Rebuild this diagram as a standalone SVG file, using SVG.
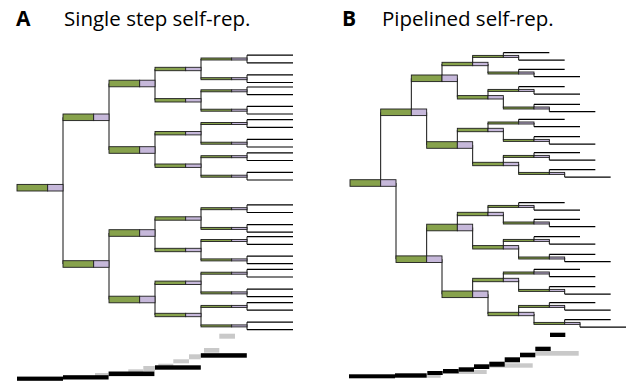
<svg xmlns="http://www.w3.org/2000/svg" width="632" height="387" viewBox="0 0 632 387">
<style>
.g{fill:#87a24c;stroke:#1e1e1e;stroke-width:0.9}
.p{fill:#c6b8da;stroke:#1e1e1e;stroke-width:0.9}
.c{fill:none;stroke:#111;stroke-width:1}
.lf line{stroke:#000;stroke-width:1.2}
.k{fill:#000}
.gr{fill:#c9c9c9}
.lbl{font-family:"Open Sans","Liberation Sans",sans-serif;font-size:20.5px;fill:#000}
.big{font-family:"Open Sans","Liberation Sans",sans-serif;font-size:21px;font-weight:bold;fill:#000}
</style>
<text class="big" x="16" y="26">A</text>
<text class="lbl" x="64" y="26">Single step self-rep.</text>
<text class="big" x="342" y="26">B</text>
<text class="lbl" x="382" y="26">Pipelined self-rep.</text>

<g id="connectors">
<path class="c" d="M63 117.3V264M109 83.5V150M109 233V299.5M155 69V100.3M155 133.2V165.7M155 218.5V250M155 282.8V315M201 59V78.7M201 90.8V110.2M201 123.5V143.2M201 156.7V176.2M201 208.7V228.4M201 240.5V259.9M201 273.2V292.9M201 306.4V325.9M247 55.2V62.8M247 74.9V82.5M247 87V94.6M247 106.4V114M247 119.7V127.3M247 139.4V147M247 152.9V160.5M247 172.4V180M247 204.9V212.5M247 224.6V232.2M247 236.7V244.3M247 256.1V263.7M247 269.4V277M247 289.1V296.7M247 302.6V310.2M247 322.1V329.7"/>
<path class="c" d="M380.67 112.3V183M396 183V259.2M411.33 78.3V112.3M426.67 112.3V145M426.67 227.5V259.2M442 259.2V294.3M442 64V78.3M457.33 78.3V97.3M457.33 130V145M472.67 145V164M457.33 214V227.5M472.67 227.5V247.3M472.67 280V294.3M488 294.3V314M472.67 56.4V64M488 64V73M488 90.4V97.3M503.33 97.3V108M488 123V130M503.33 130V140.4M503.33 156.4V164M518.67 164V173.4M488 206.4V214M503.33 214V223M503.33 240.4V247.3M518.67 247.3V258M503.33 273V280M518.67 280V290.4M518.67 306.4V314M534 314V323.4M503.33 52.7V56.4M518.67 56.4V60.1M518.67 69.3V73M534 73V76.7M518.67 86.7V90.4M534 90.4V94.1M534 104.3V108M549.33 108V111.7M518.67 119.3V123M534 123V126.7M534 136.7V140.4M549.33 140.4V144.1M534 152.7V156.4M549.33 156.4V160.1M549.33 169.7V173.4M564.67 173.4V177.1M518.67 202.7V206.4M534 206.4V210.1M534 219.3V223M549.33 223V226.7M534 236.7V240.4M549.33 240.4V244.1M549.33 254.3V258M564.67 258V261.7M534 269.3V273M549.33 273V276.7M549.33 286.7V290.4M564.67 290.4V294.1M549.33 302.7V306.4M564.67 306.4V310.1M564.67 319.7V323.4M580 323.4V327.1"/>
</g>

<!-- Panel A nodes -->
<g id="A-r"><rect class="g" x="17" y="184.4" width="30.67" height="6.6"/><rect class="p" x="47.67" y="184.4" width="15.33" height="6.6"/></g>
<g id="A-a"><rect class="g" x="63" y="114" width="30.67" height="6.6"/><rect class="p" x="93.67" y="114" width="15.33" height="6.6"/></g>
<g id="A-b"><rect class="g" x="63" y="260.7" width="30.67" height="6.6"/><rect class="p" x="93.67" y="260.7" width="15.33" height="6.6"/></g>
<g id="A-aa"><rect class="g" x="109" y="80.2" width="30.67" height="6.6"/><rect class="p" x="139.67" y="80.2" width="15.33" height="6.6"/></g>
<g id="A-ab"><rect class="g" x="109" y="146.7" width="30.67" height="6.6"/><rect class="p" x="139.67" y="146.7" width="15.33" height="6.6"/></g>
<g id="A-ba"><rect class="g" x="109" y="229.7" width="30.67" height="6.6"/><rect class="p" x="139.67" y="229.7" width="15.33" height="6.6"/></g>
<g id="A-bb"><rect class="g" x="109" y="296.2" width="30.67" height="6.6"/><rect class="p" x="139.67" y="296.2" width="15.33" height="6.6"/></g>
<g id="A-aaa"><rect class="g" x="155" y="67.3" width="30.67" height="3.4"/><rect class="p" x="185.67" y="67.3" width="15.33" height="3.4"/></g>
<g id="A-aab"><rect class="g" x="155" y="98.6" width="30.67" height="3.4"/><rect class="p" x="185.67" y="98.6" width="15.33" height="3.4"/></g>
<g id="A-aba"><rect class="g" x="155" y="131.5" width="30.67" height="3.4"/><rect class="p" x="185.67" y="131.5" width="15.33" height="3.4"/></g>
<g id="A-abb"><rect class="g" x="155" y="164" width="30.67" height="3.4"/><rect class="p" x="185.67" y="164" width="15.33" height="3.4"/></g>
<g id="A-baa"><rect class="g" x="155" y="216.8" width="30.67" height="3.4"/><rect class="p" x="185.67" y="216.8" width="15.33" height="3.4"/></g>
<g id="A-bab"><rect class="g" x="155" y="248.3" width="30.67" height="3.4"/><rect class="p" x="185.67" y="248.3" width="15.33" height="3.4"/></g>
<g id="A-bba"><rect class="g" x="155" y="281.1" width="30.67" height="3.4"/><rect class="p" x="185.67" y="281.1" width="15.33" height="3.4"/></g>
<g id="A-bbb"><rect class="g" x="155" y="313.3" width="30.67" height="3.4"/><rect class="p" x="185.67" y="313.3" width="15.33" height="3.4"/></g>
<g id="A-aaaa"><rect class="g" x="201" y="58" width="30.67" height="2"/><rect class="p" x="231.67" y="58" width="15.33" height="2"/></g>
<g id="A-aaab"><rect class="g" x="201" y="77.7" width="30.67" height="2"/><rect class="p" x="231.67" y="77.7" width="15.33" height="2"/></g>
<g id="A-aaba"><rect class="g" x="201" y="89.8" width="30.67" height="2"/><rect class="p" x="231.67" y="89.8" width="15.33" height="2"/></g>
<g id="A-aabb"><rect class="g" x="201" y="109.2" width="30.67" height="2"/><rect class="p" x="231.67" y="109.2" width="15.33" height="2"/></g>
<g id="A-abaa"><rect class="g" x="201" y="122.5" width="30.67" height="2"/><rect class="p" x="231.67" y="122.5" width="15.33" height="2"/></g>
<g id="A-abab"><rect class="g" x="201" y="142.2" width="30.67" height="2"/><rect class="p" x="231.67" y="142.2" width="15.33" height="2"/></g>
<g id="A-abba"><rect class="g" x="201" y="155.7" width="30.67" height="2"/><rect class="p" x="231.67" y="155.7" width="15.33" height="2"/></g>
<g id="A-abbb"><rect class="g" x="201" y="175.2" width="30.67" height="2"/><rect class="p" x="231.67" y="175.2" width="15.33" height="2"/></g>
<g id="A-baaa"><rect class="g" x="201" y="207.7" width="30.67" height="2"/><rect class="p" x="231.67" y="207.7" width="15.33" height="2"/></g>
<g id="A-baab"><rect class="g" x="201" y="227.4" width="30.67" height="2"/><rect class="p" x="231.67" y="227.4" width="15.33" height="2"/></g>
<g id="A-baba"><rect class="g" x="201" y="239.5" width="30.67" height="2"/><rect class="p" x="231.67" y="239.5" width="15.33" height="2"/></g>
<g id="A-babb"><rect class="g" x="201" y="258.9" width="30.67" height="2"/><rect class="p" x="231.67" y="258.9" width="15.33" height="2"/></g>
<g id="A-bbaa"><rect class="g" x="201" y="272.2" width="30.67" height="2"/><rect class="p" x="231.67" y="272.2" width="15.33" height="2"/></g>
<g id="A-bbab"><rect class="g" x="201" y="291.9" width="30.67" height="2"/><rect class="p" x="231.67" y="291.9" width="15.33" height="2"/></g>
<g id="A-bbba"><rect class="g" x="201" y="305.4" width="30.67" height="2"/><rect class="p" x="231.67" y="305.4" width="15.33" height="2"/></g>
<g id="A-bbbb"><rect class="g" x="201" y="324.9" width="30.67" height="2"/><rect class="p" x="231.67" y="324.9" width="15.33" height="2"/></g>
<g class="lf">
<g id="A-L01"><line x1="247" y1="55.2" x2="293" y2="55.2"/></g>
<g id="A-L02"><line x1="247" y1="62.8" x2="293" y2="62.8"/></g>
<g id="A-L03"><line x1="247" y1="74.9" x2="293" y2="74.9"/></g>
<g id="A-L04"><line x1="247" y1="82.5" x2="293" y2="82.5"/></g>
<g id="A-L05"><line x1="247" y1="87" x2="293" y2="87"/></g>
<g id="A-L06"><line x1="247" y1="94.6" x2="293" y2="94.6"/></g>
<g id="A-L07"><line x1="247" y1="106.4" x2="293" y2="106.4"/></g>
<g id="A-L08"><line x1="247" y1="114" x2="293" y2="114"/></g>
<g id="A-L09"><line x1="247" y1="119.7" x2="293" y2="119.7"/></g>
<g id="A-L10"><line x1="247" y1="127.3" x2="293" y2="127.3"/></g>
<g id="A-L11"><line x1="247" y1="139.4" x2="293" y2="139.4"/></g>
<g id="A-L12"><line x1="247" y1="147" x2="293" y2="147"/></g>
<g id="A-L13"><line x1="247" y1="152.9" x2="293" y2="152.9"/></g>
<g id="A-L14"><line x1="247" y1="160.5" x2="293" y2="160.5"/></g>
<g id="A-L15"><line x1="247" y1="172.4" x2="293" y2="172.4"/></g>
<g id="A-L16"><line x1="247" y1="180" x2="293" y2="180"/></g>
<g id="A-L17"><line x1="247" y1="204.9" x2="293" y2="204.9"/></g>
<g id="A-L18"><line x1="247" y1="212.5" x2="293" y2="212.5"/></g>
<g id="A-L19"><line x1="247" y1="224.6" x2="293" y2="224.6"/></g>
<g id="A-L20"><line x1="247" y1="232.2" x2="293" y2="232.2"/></g>
<g id="A-L21"><line x1="247" y1="236.7" x2="293" y2="236.7"/></g>
<g id="A-L22"><line x1="247" y1="244.3" x2="293" y2="244.3"/></g>
<g id="A-L23"><line x1="247" y1="256.1" x2="293" y2="256.1"/></g>
<g id="A-L24"><line x1="247" y1="263.7" x2="293" y2="263.7"/></g>
<g id="A-L25"><line x1="247" y1="269.4" x2="293" y2="269.4"/></g>
<g id="A-L26"><line x1="247" y1="277" x2="293" y2="277"/></g>
<g id="A-L27"><line x1="247" y1="289.1" x2="293" y2="289.1"/></g>
<g id="A-L28"><line x1="247" y1="296.7" x2="293" y2="296.7"/></g>
<g id="A-L29"><line x1="247" y1="302.6" x2="293" y2="302.6"/></g>
<g id="A-L30"><line x1="247" y1="310.2" x2="293" y2="310.2"/></g>
<g id="A-L31"><line x1="247" y1="322.1" x2="293" y2="322.1"/></g>
<g id="A-L32"><line x1="247" y1="329.7" x2="293" y2="329.7"/></g>
</g>

<!-- Panel B nodes -->
<g id="B-r"><rect class="g" x="350" y="179.7" width="30.67" height="6.6"/><rect class="p" x="380.67" y="179.7" width="15.33" height="6.6"/></g>
<g id="B-a"><rect class="g" x="380.67" y="109" width="30.67" height="6.6"/><rect class="p" x="411.33" y="109" width="15.33" height="6.6"/></g>
<g id="B-b"><rect class="g" x="396" y="255.9" width="30.67" height="6.6"/><rect class="p" x="426.67" y="255.9" width="15.33" height="6.6"/></g>
<g id="B-aa"><rect class="g" x="411.33" y="75" width="30.67" height="6.6"/><rect class="p" x="442" y="75" width="15.33" height="6.6"/></g>
<g id="B-ab"><rect class="g" x="426.67" y="141.7" width="30.67" height="6.6"/><rect class="p" x="457.33" y="141.7" width="15.33" height="6.6"/></g>
<g id="B-ba"><rect class="g" x="426.67" y="224.2" width="30.67" height="6.6"/><rect class="p" x="457.33" y="224.2" width="15.33" height="6.6"/></g>
<g id="B-bb"><rect class="g" x="442" y="291" width="30.67" height="6.6"/><rect class="p" x="472.67" y="291" width="15.33" height="6.6"/></g>
<g id="B-aaa"><rect class="g" x="442" y="62.3" width="30.67" height="3.4"/><rect class="p" x="472.67" y="62.3" width="15.33" height="3.4"/></g>
<g id="B-aab"><rect class="g" x="457.33" y="95.6" width="30.67" height="3.4"/><rect class="p" x="488" y="95.6" width="15.33" height="3.4"/></g>
<g id="B-aba"><rect class="g" x="457.33" y="128.3" width="30.67" height="3.4"/><rect class="p" x="488" y="128.3" width="15.33" height="3.4"/></g>
<g id="B-abb"><rect class="g" x="472.67" y="162.3" width="30.67" height="3.4"/><rect class="p" x="503.33" y="162.3" width="15.33" height="3.4"/></g>
<g id="B-baa"><rect class="g" x="457.33" y="212.3" width="30.67" height="3.4"/><rect class="p" x="488" y="212.3" width="15.33" height="3.4"/></g>
<g id="B-bab"><rect class="g" x="472.67" y="245.6" width="30.67" height="3.4"/><rect class="p" x="503.33" y="245.6" width="15.33" height="3.4"/></g>
<g id="B-bba"><rect class="g" x="472.67" y="278.3" width="30.67" height="3.4"/><rect class="p" x="503.33" y="278.3" width="15.33" height="3.4"/></g>
<g id="B-bbb"><rect class="g" x="488" y="312.3" width="30.67" height="3.4"/><rect class="p" x="518.67" y="312.3" width="15.33" height="3.4"/></g>
<g id="B-aaaa"><rect class="g" x="472.67" y="55.4" width="30.67" height="2"/><rect class="p" x="503.33" y="55.4" width="15.33" height="2"/></g>
<g id="B-aaab"><rect class="g" x="488" y="72" width="30.67" height="2"/><rect class="p" x="518.67" y="72" width="15.33" height="2"/></g>
<g id="B-aaba"><rect class="g" x="488" y="89.4" width="30.67" height="2"/><rect class="p" x="518.67" y="89.4" width="15.33" height="2"/></g>
<g id="B-aabb"><rect class="g" x="503.33" y="107" width="30.67" height="2"/><rect class="p" x="534" y="107" width="15.33" height="2"/></g>
<g id="B-abaa"><rect class="g" x="488" y="122" width="30.67" height="2"/><rect class="p" x="518.67" y="122" width="15.33" height="2"/></g>
<g id="B-abab"><rect class="g" x="503.33" y="139.4" width="30.67" height="2"/><rect class="p" x="534" y="139.4" width="15.33" height="2"/></g>
<g id="B-abba"><rect class="g" x="503.33" y="155.4" width="30.67" height="2"/><rect class="p" x="534" y="155.4" width="15.33" height="2"/></g>
<g id="B-abbb"><rect class="g" x="518.67" y="172.4" width="30.67" height="2"/><rect class="p" x="549.33" y="172.4" width="15.33" height="2"/></g>
<g id="B-baaa"><rect class="g" x="488" y="205.4" width="30.67" height="2"/><rect class="p" x="518.67" y="205.4" width="15.33" height="2"/></g>
<g id="B-baab"><rect class="g" x="503.33" y="222" width="30.67" height="2"/><rect class="p" x="534" y="222" width="15.33" height="2"/></g>
<g id="B-baba"><rect class="g" x="503.33" y="239.4" width="30.67" height="2"/><rect class="p" x="534" y="239.4" width="15.33" height="2"/></g>
<g id="B-babb"><rect class="g" x="518.67" y="257" width="30.67" height="2"/><rect class="p" x="549.33" y="257" width="15.33" height="2"/></g>
<g id="B-bbaa"><rect class="g" x="503.33" y="272" width="30.67" height="2"/><rect class="p" x="534" y="272" width="15.33" height="2"/></g>
<g id="B-bbab"><rect class="g" x="518.67" y="289.4" width="30.67" height="2"/><rect class="p" x="549.33" y="289.4" width="15.33" height="2"/></g>
<g id="B-bbba"><rect class="g" x="518.67" y="305.4" width="30.67" height="2"/><rect class="p" x="549.33" y="305.4" width="15.33" height="2"/></g>
<g id="B-bbbb"><rect class="g" x="534" y="322.4" width="30.67" height="2"/><rect class="p" x="564.67" y="322.4" width="15.33" height="2"/></g>
<g class="lf">
<g id="B-L01"><line x1="503.33" y1="52.7" x2="549.33" y2="52.7"/></g>
<g id="B-L02"><line x1="518.67" y1="60.1" x2="564.67" y2="60.1"/></g>
<g id="B-L03"><line x1="518.67" y1="69.3" x2="564.67" y2="69.3"/></g>
<g id="B-L04"><line x1="534" y1="76.7" x2="580" y2="76.7"/></g>
<g id="B-L05"><line x1="518.67" y1="86.7" x2="564.67" y2="86.7"/></g>
<g id="B-L06"><line x1="534" y1="94.1" x2="580" y2="94.1"/></g>
<g id="B-L07"><line x1="534" y1="104.3" x2="580" y2="104.3"/></g>
<g id="B-L08"><line x1="549.33" y1="111.7" x2="595.33" y2="111.7"/></g>
<g id="B-L09"><line x1="518.67" y1="119.3" x2="564.67" y2="119.3"/></g>
<g id="B-L10"><line x1="534" y1="126.7" x2="580" y2="126.7"/></g>
<g id="B-L11"><line x1="534" y1="136.7" x2="580" y2="136.7"/></g>
<g id="B-L12"><line x1="549.33" y1="144.1" x2="595.33" y2="144.1"/></g>
<g id="B-L13"><line x1="534" y1="152.7" x2="580" y2="152.7"/></g>
<g id="B-L14"><line x1="549.33" y1="160.1" x2="595.33" y2="160.1"/></g>
<g id="B-L15"><line x1="549.33" y1="169.7" x2="595.33" y2="169.7"/></g>
<g id="B-L16"><line x1="564.67" y1="177.1" x2="610.67" y2="177.1"/></g>
<g id="B-L17"><line x1="518.67" y1="202.7" x2="564.67" y2="202.7"/></g>
<g id="B-L18"><line x1="534" y1="210.1" x2="580" y2="210.1"/></g>
<g id="B-L19"><line x1="534" y1="219.3" x2="580" y2="219.3"/></g>
<g id="B-L20"><line x1="549.33" y1="226.7" x2="595.33" y2="226.7"/></g>
<g id="B-L21"><line x1="534" y1="236.7" x2="580" y2="236.7"/></g>
<g id="B-L22"><line x1="549.33" y1="244.1" x2="595.33" y2="244.1"/></g>
<g id="B-L23"><line x1="549.33" y1="254.3" x2="595.33" y2="254.3"/></g>
<g id="B-L24"><line x1="564.67" y1="261.7" x2="610.67" y2="261.7"/></g>
<g id="B-L25"><line x1="534" y1="269.3" x2="580" y2="269.3"/></g>
<g id="B-L26"><line x1="549.33" y1="276.7" x2="595.33" y2="276.7"/></g>
<g id="B-L27"><line x1="549.33" y1="286.7" x2="595.33" y2="286.7"/></g>
<g id="B-L28"><line x1="564.67" y1="294.1" x2="610.67" y2="294.1"/></g>
<g id="B-L29"><line x1="549.33" y1="302.7" x2="595.33" y2="302.7"/></g>
<g id="B-L30"><line x1="564.67" y1="310.1" x2="610.67" y2="310.1"/></g>
<g id="B-L31"><line x1="564.67" y1="319.7" x2="610.67" y2="319.7"/></g>
<g id="B-L32"><line x1="580" y1="327.1" x2="626" y2="327.1"/></g>
</g>

<!-- Timelines -->
<g id="A-timeline">
<rect class="gr" x="95" y="373" width="13.3" height="4.5"/>
<rect class="gr" x="128.3" y="369.3" width="15" height="4.5"/>
<rect class="gr" x="143.3" y="366" width="11.7" height="5.3"/>
<rect class="gr" x="158.3" y="363.7" width="15" height="4"/>
<rect class="gr" x="173.3" y="359.3" width="15.7" height="4"/>
<rect class="gr" x="189" y="354.3" width="11.7" height="5"/>
<rect class="gr" x="204" y="348" width="15.3" height="4.7"/>
<rect class="gr" x="219.3" y="333.7" width="15.7" height="5"/>
<rect class="k" x="17" y="376.6" width="46" height="4.2"/>
<rect class="k" x="63" y="375.2" width="45.6" height="4.3"/>
<rect class="k" x="108.6" y="371.5" width="45.8" height="4.6"/>
<rect class="k" x="155" y="365.3" width="45.8" height="4.4"/>
<rect class="k" x="200.8" y="353.2" width="46" height="4.5"/>
</g>
<g id="B-timeline">
<rect class="gr" x="426.7" y="375" width="14" height="2.8"/>
<rect class="gr" x="443" y="370" width="43.7" height="4"/>
<rect class="gr" x="489.3" y="363.3" width="43.4" height="4.4"/>
<rect class="gr" x="535.3" y="351" width="43.4" height="4.7"/>
<rect class="k" x="349" y="374.3" width="46" height="4"/>
<rect class="k" x="395" y="373.3" width="31.7" height="4.4"/>
<rect class="k" x="427.3" y="371" width="15.4" height="4"/>
<rect class="k" x="443" y="369" width="15.7" height="4.3"/>
<rect class="k" x="458.7" y="367.3" width="15.3" height="4.4"/>
<rect class="k" x="474" y="364.3" width="15.3" height="4.7"/>
<rect class="k" x="489.3" y="361.7" width="15.4" height="5"/>
<rect class="k" x="504.7" y="357.3" width="15.3" height="5"/>
<rect class="k" x="520" y="352.7" width="15.3" height="4.6"/>
<rect class="k" x="535.3" y="346.7" width="15.4" height="4.3"/>
<rect class="k" x="550" y="332.7" width="15.3" height="4.3"/>
</g>
</svg>
